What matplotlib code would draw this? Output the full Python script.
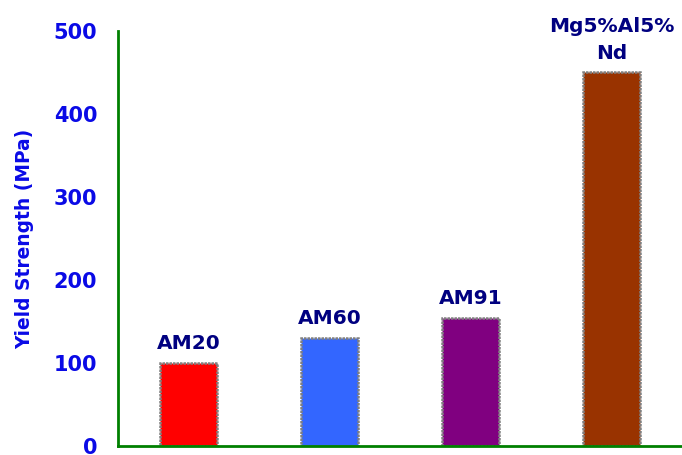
import matplotlib
matplotlib.use("Agg")
import matplotlib.pyplot as plt

categories = ["AM20", "AM60", "AM91", "Mg5%Al5%\nNd"]
values = [100, 130, 154, 450]
colors = ["#FF0000", "#3366FF", "#800080", "#993300"]
yticks = [0, 100, 200, 300, 400, 500]

plt.rcParams['font.family'] = ['DejaVu Sans']

fig = plt.figure(figsize=(6.82, 4.55), dpi=100)
ax = fig.add_axes([118/682, 9/455, 1 - 118/682, (446-31)/455])

x = range(len(categories))
bars = ax.bar(x, values, width=0.41, color=colors, edgecolor="#808080",
              linewidth=1.8, linestyle=(0, (1, 0.4)))

for xi, v, lab in zip(x, values, categories):
    ax.annotate(lab, (xi, v), xytext=(0, 7), textcoords="offset points",
                ha="center", va="bottom", fontsize=14.5, fontweight="bold",
                color="#000080", linespacing=1.55)

ax.set_xlim(-0.5, 3.5)
ax.set_ylim(0, 500)
ax.set_yticks(yticks)
ax.set_yticklabels([str(t) for t in yticks], fontsize=15, fontweight="bold",
                   color="#0A0AE6")
ax.tick_params(axis="y", length=0, pad=15)
ax.set_xticks([])
ax.set_ylabel("Yield Strength (MPa)", fontsize=13.4, fontweight="bold",
              color="#0A0AE6", labelpad=14)

for s in ["top", "right"]:
    ax.spines[s].set_visible(False)
for s in ["left", "bottom"]:
    ax.spines[s].set_color("#008000")
    ax.spines[s].set_linewidth(2)

fig.savefig("out.png", dpi=100)
